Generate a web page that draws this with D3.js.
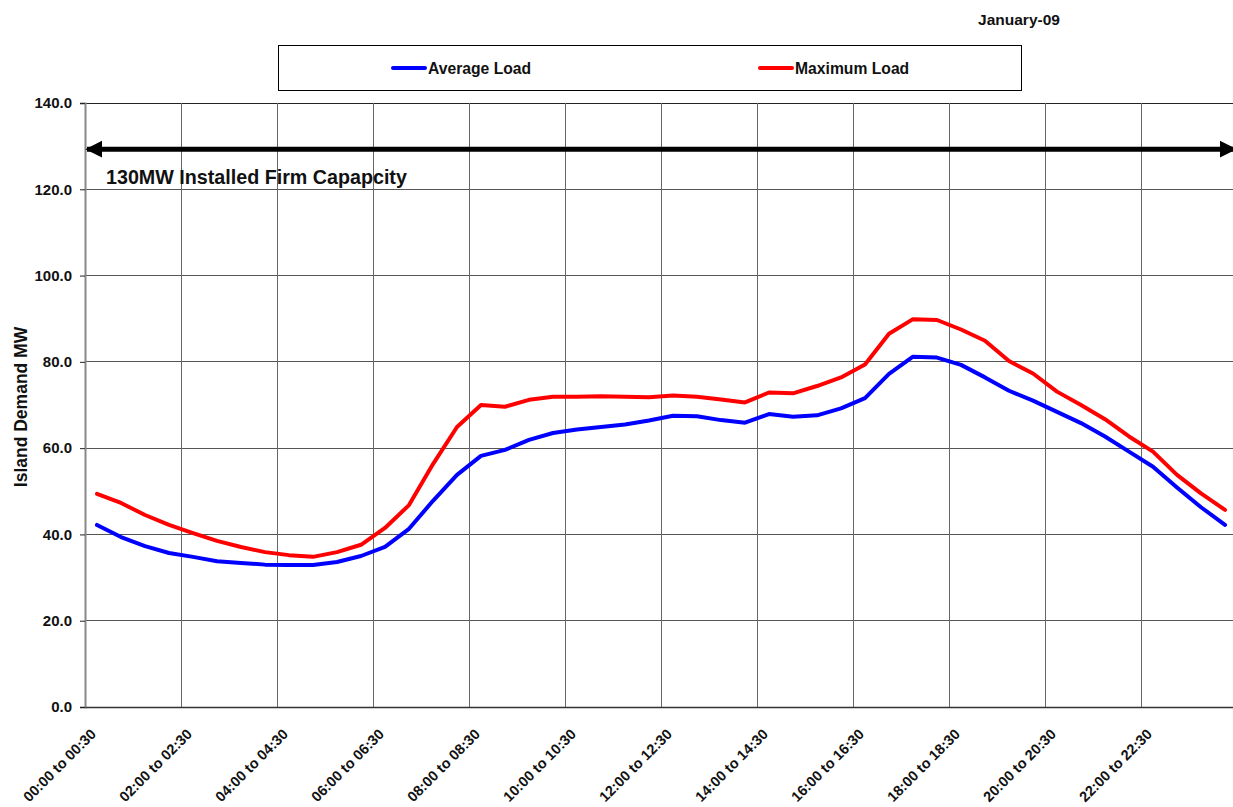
<!DOCTYPE html>
<html><head><meta charset="utf-8">
<script src="https://cdn.jsdelivr.net/npm/d3@7"></script>
<style>
html,body{margin:0;padding:0;background:#fff;}
svg{display:block;font-family:"Liberation Sans",Arial,sans-serif;font-weight:bold;}
</style></head>
<body>
<svg id="chart" width="1233" height="807"></svg>
<script>
// ---- data ----
function pad(n){return (n<10?"0":"")+n;}
const categories = [];
for (let i = 0; i < 48; i++) {
  const h1 = Math.floor(i/2), m1 = (i%2)*30;
  const h2 = Math.floor((i+1)/2), m2 = ((i+1)%2)*30;
  categories.push(pad(h1)+":"+pad(m1)+" to "+pad(h2)+":"+pad(m2));
}
const averageLoad = [42.2,39.4,37.3,35.7,34.8,33.8,33.4,33.0,32.9,32.9,33.6,35.0,
  37.1,41.3,47.8,53.8,58.2,59.6,61.9,63.5,64.3,64.9,65.5,66.4,
  67.5,67.4,66.5,65.9,67.9,67.3,67.6,69.2,71.6,77.2,81.2,81.0,
  79.3,76.4,73.3,71.0,68.4,65.8,62.7,59.2,55.7,50.9,46.3,42.2];
const maximumLoad = [49.4,47.3,44.5,42.2,40.3,38.5,37.1,35.9,35.2,34.8,35.9,37.6,
  41.5,46.8,56.3,64.9,70.0,69.6,71.2,71.9,71.9,72.0,71.9,71.8,
  72.2,71.9,71.3,70.6,72.9,72.7,74.4,76.4,79.4,86.5,89.9,89.7,
  87.5,84.9,80.2,77.3,73.1,70.0,66.7,62.7,59.2,53.8,49.5,45.7];
const seriesNames = ["Average Load","Maximum Load"];
const seriesColors = ["#0000ff","#ff0000"];
const yTicks = [0,20,40,60,80,100,120,140];
const capacityMW = 130;
const capacityLabel = "130MW Installed Firm Capapcity";
const periodLabel = "January-09";
const yTitle = "Island Demand MW";

// ---- layout ----
const svg = d3.select("#chart");
const pLeft = 85, pRight = 1237, pTop = 103, pBottom = 707;
const x = d3.scaleBand().domain(categories).range([pLeft, pRight]).padding(0);
const y = d3.scaleLinear().domain([0,140]).range([pBottom, pTop]);
const cx = d => x(d) + x.bandwidth()/2;

// horizontal grid
svg.append("g").selectAll("line").data(yTicks.filter(v=>v>0)).join("line")
  .attr("x1", pLeft).attr("x2", pRight).attr("y1", d=>y(d)).attr("y2", d=>y(d))
  .attr("stroke", d=> d===140 ? "#222" : "#555").attr("stroke-width",1).attr("shape-rendering","crispEdges");
// vertical grid
svg.append("g").selectAll("line").data(categories.filter((c,i)=>i>0 && i%4===0)).join("line")
  .attr("x1", d=>x(d)).attr("x2", d=>x(d)).attr("y1", pTop).attr("y2", pBottom)
  .attr("stroke","#666").attr("stroke-width",1).attr("shape-rendering","crispEdges");

// y axis
const yAxis = d3.axisLeft(y).tickValues(yTicks).tickFormat(d3.format(".1f")).tickSize(5).tickPadding(8);
const gy = svg.append("g").attr("transform",`translate(${pLeft},0)`).call(yAxis);
gy.select(".domain").attr("stroke","#888").attr("stroke-width",2);
gy.selectAll(".tick line").attr("stroke","#222");
gy.selectAll(".tick text").attr("font-size","15px").attr("font-weight","bold").attr("fill","#111")
  .attr("font-family","Liberation Sans, Arial, sans-serif");

// x axis
const xAxis = d3.axisBottom(x).tickValues(categories.filter((c,i)=>i%4===0)).tickSize(0).tickPadding(0);
const gx = svg.append("g").attr("transform",`translate(0,${pBottom})`).call(xAxis);
gx.select(".domain").attr("stroke","#333").attr("stroke-width",1.5);
gx.selectAll(".tick text")
  .attr("font-size","14.5px").attr("font-weight","bold").attr("fill","#111")
  .attr("font-family","Liberation Sans, Arial, sans-serif")
  .attr("text-anchor","end").attr("dy",null).attr("y",null)
  .attr("transform","translate(0,28) rotate(-45)");

// y title
svg.append("text").attr("transform","translate(27,407) rotate(-90)")
  .attr("text-anchor","middle").attr("font-size","17.5px").attr("fill","#111").text(yTitle);

// period label
svg.append("text").attr("x",1019).attr("y",25).attr("text-anchor","middle")
  .attr("font-size","15.5px").attr("fill","#111").text(periodLabel);

// capacity arrow
const defs = svg.append("defs");
defs.append("marker").attr("id","ah").attr("viewBox","0 0 10 10").attr("refX",9).attr("refY",5)
  .attr("markerWidth",3.4).attr("markerHeight",3.6).attr("orient","auto-start-reverse").attr("markerUnits","strokeWidth")
  .append("path").attr("d","M0,0 L10,5 L0,10 Z").attr("fill","#000");
const arrowY = y(capacityMW) + 3;
svg.append("line").attr("x1", pLeft+2).attr("x2", pRight-2).attr("y1", arrowY).attr("y2", arrowY)
  .attr("stroke","#000").attr("stroke-width",5)
  .attr("marker-start","url(#ah)").attr("marker-end","url(#ah)");
svg.append("text").attr("x",106).attr("y",184).attr("font-size","19.7px").attr("fill","#111").text(capacityLabel);

// lines
const line = d3.line().x((d,i)=>cx(categories[i])).y(d=>y(d));
[averageLoad, maximumLoad].forEach((s,k)=>{
  svg.append("path").datum(s).attr("d", line).attr("fill","none")
    .attr("stroke", seriesColors[k]).attr("stroke-width",4).attr("stroke-linejoin","round").attr("stroke-linecap","round");
});

// legend
svg.append("rect").attr("x",278.5).attr("y",45.5).attr("width",743).attr("height",45)
  .attr("fill","#fff").attr("stroke","#000").attr("stroke-width",1);
const legX = [393, 760];
seriesNames.forEach((n,k)=>{
  const g = svg.append("g").attr("transform",`translate(${legX[k]},68)`);
  g.append("line").attr("x1",0).attr("x2",32).attr("y1",0).attr("y2",0)
    .attr("stroke",seriesColors[k]).attr("stroke-width",4).attr("stroke-linecap","round");
  g.append("text").attr("x",35).attr("y",6).attr("font-size","15.7px").attr("fill","#111").text(n);
});
</script>
</body></html>
